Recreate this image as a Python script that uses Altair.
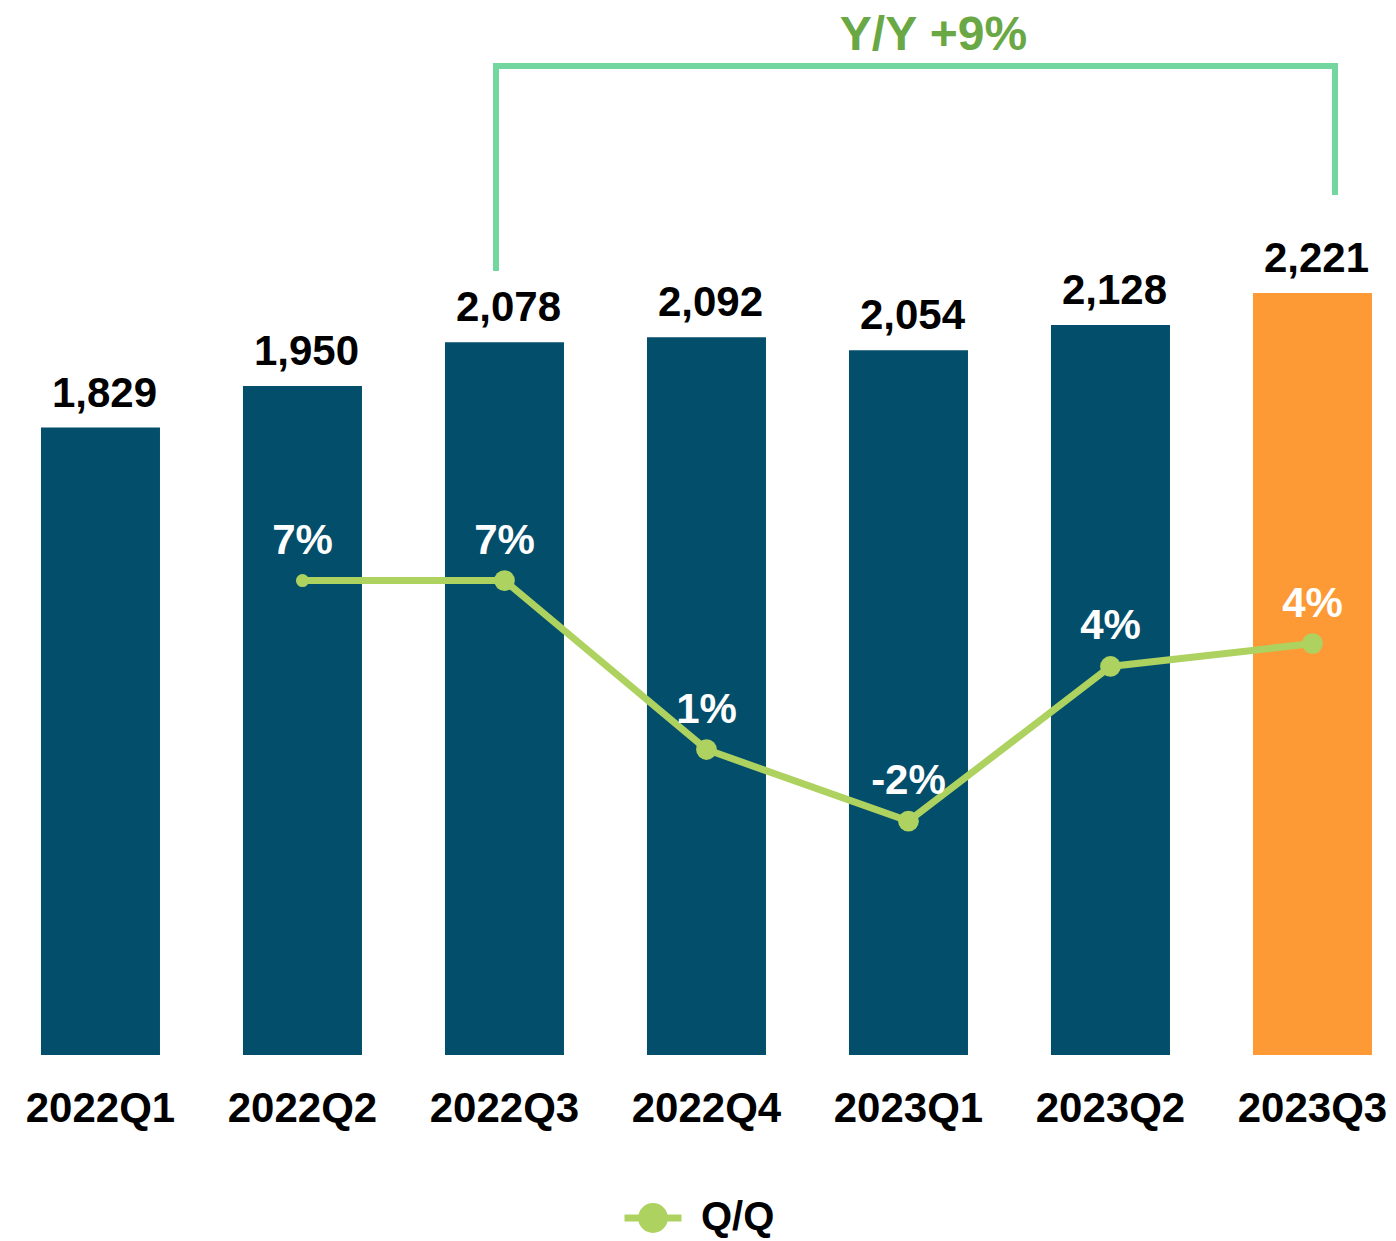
import altair as alt
import pandas as pd

# ---- data ----
quarters = ["2022Q1", "2022Q2", "2022Q3", "2022Q4", "2023Q1", "2023Q2", "2023Q3"]
revenue = [1829, 1950, 2078, 2092, 2054, 2128, 2221]
qoq_pct = [None, 6.6, 6.6, 0.7, -1.8, 3.6, 4.4]
qoq_text = ["", "7%", "7%", "1%", "-2%", "4%", "4%"]
series_name = "Q/Q"
yoy_text = "Y/Y +9%"
yoy_from = "2022Q3"
yoy_to = "2023Q3"

# ---- styles ----
FONT = "Liberation Sans"
TEAL = "#034e6a"
ORANGE = "#fd9a36"
GREEN = "#aed260"
BRACKET = "#72d69e"
YOY_GREEN = "#6aa846"
FS = 42

W, H = 1380, 1047
BAR_MAX = 3052
PCT_DOMAIN = [-9.965, 26.59]

df = pd.DataFrame({"quarter": quarters, "revenue": revenue,
                   "qoq": qoq_pct, "qoq_label": qoq_text})

x_scale = alt.Scale(domain=quarters, paddingInner=0.4109, paddingOuter=0.1213, align=0.673)
x_axis = alt.Axis(title=None, labelAngle=0, labelFont=FONT, labelFontSize=FS,
                  labelFontWeight="bold", labelColor="black", domain=False,
                  ticks=False, tickSize=0, labelPadding=66, labelBaseline="alphabetic",
                  grid=False)
x_enc = alt.X("quarter:N", scale=x_scale, axis=x_axis)
y_bar_scale = alt.Scale(domain=[0, BAR_MAX], nice=False, zero=True)
y_bar = alt.Y("revenue:Q", scale=y_bar_scale, axis=None)

base = alt.Chart(df)

bars = base.mark_bar().encode(
    x=x_enc, y=y_bar,
    color=alt.condition(alt.datum.quarter == quarters[-1], alt.value(ORANGE), alt.value(TEAL)),
)
bar_labels = base.mark_text(baseline="alphabetic", dy=-21, dx=4, font=FONT, fontSize=FS,
                            fontWeight="bold", color="black").encode(
    x=x_enc, y=y_bar, text=alt.Text("revenue:Q", format=","))

# Y/Y bracket (annotation levels in revenue units)
B_TOP, B_LEFT, B_RIGHT = 2883, 2294, 2515
bracket_left = alt.Chart(df).mark_rule(color=BRACKET, strokeWidth=5, xOffset=-8.5, strokeCap="square").encode(
    x=alt.X(datum=yoy_from, type="nominal", scale=x_scale, axis=x_axis),
    y=alt.Y(datum=B_LEFT, type="quantitative", scale=y_bar_scale, axis=None),
    y2=alt.datum(B_TOP))
bracket_right = alt.Chart(df).mark_rule(color=BRACKET, strokeWidth=5, xOffset=22.5, strokeCap="square").encode(
    x=alt.X(datum=yoy_to, type="nominal", scale=x_scale, axis=x_axis),
    y=alt.Y(datum=B_RIGHT, type="quantitative", scale=y_bar_scale, axis=None),
    y2=alt.datum(B_TOP))
bracket_top = alt.Chart(df).mark_rule(color=BRACKET, strokeWidth=5, xOffset=-8.5, x2Offset=22.5,
                                      strokeCap="square").encode(
    x=alt.X(datum=yoy_from, type="nominal", scale=x_scale, axis=x_axis),
    x2=alt.datum(yoy_to),
    y=alt.Y(datum=B_TOP, type="quantitative", scale=y_bar_scale, axis=None))
yoy_label = alt.Chart(pd.DataFrame({"t": [yoy_text]})).mark_text(
    baseline="alphabetic", dx=25, font=FONT, fontSize=48, fontWeight="bold", color=YOY_GREEN).encode(
    x=alt.X(datum="2023Q1", type="nominal", scale=x_scale, axis=x_axis),
    y=alt.Y(datum=2930, type="quantitative", scale=y_bar_scale, axis=None),
    text="t:N")

left = alt.layer(bars, bar_labels, bracket_left, bracket_right, bracket_top, yoy_label)

# Q/Q line
y_pct_scale = alt.Scale(domain=PCT_DOMAIN, nice=False, zero=False)
y_pct = alt.Y("qoq:Q", scale=y_pct_scale, axis=None)
line_base = base.transform_filter("isValid(datum.qoq)").transform_calculate(series=f"'{series_name}'")

legend = alt.Legend(title=None, orient="none", legendX=625, legendY=1190, padding=0,
                    labelFont=FONT, labelFontSize=40, labelFontWeight="bold", labelColor="black",
                    symbolType="M-2,0H2M0.8,0A0.8,0.8,0,1,1,-0.8,0A0.8,0.8,0,1,1,0.8,0Z",
                    symbolSize=812, symbolStrokeWidth=7, symbolFillColor=GREEN,
                    symbolStrokeColor=GREEN, labelOffset=28)

line = line_base.mark_line(strokeWidth=7).encode(
    x=x_enc, y=y_pct,
    color=alt.Color("series:N", scale=alt.Scale(domain=[series_name], range=[GREEN]), legend=legend))
points = line_base.mark_circle(opacity=1, color=GREEN).encode(
    x=x_enc, y=y_pct,
    size=alt.condition(alt.datum.quarter == quarters[1], alt.value(170), alt.value(430)))
pct_labels = line_base.mark_text(baseline="alphabetic", dy=-27, font=FONT, fontSize=FS,
                                 fontWeight="bold", color="white").encode(
    x=x_enc, y=y_pct, text="qoq_label:N")

right = alt.layer(line, points, pct_labels)

chart = alt.layer(left, right).resolve_scale(y="independent").properties(
    width=W, height=H, padding=0
).configure_view(stroke=None)

chart.save("out.html", embed_options={"renderer": "svg", "actions": False})
